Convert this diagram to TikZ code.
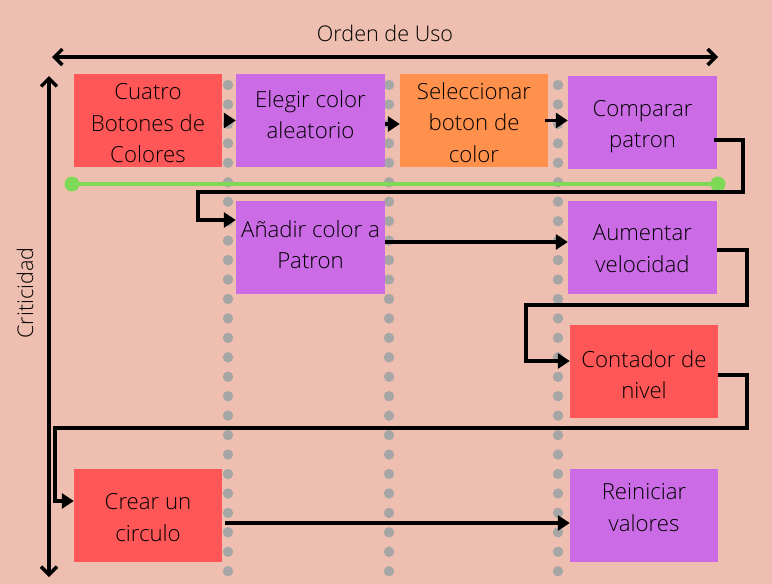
\documentclass[tikz,border=0pt]{standalone}
\usepackage{fontspec}
\setmainfont{Open Sans}[UprightFont = * Light]
\usetikzlibrary{arrows.meta}
\definecolor{paper}{HTML}{EEBFB0}
\definecolor{boxred}{HTML}{FF5757}
\definecolor{boxpurple}{HTML}{CB6CE6}
\definecolor{boxorange}{HTML}{FF914D}
\definecolor{dotgray}{HTML}{A6A6A6}
\definecolor{lime}{HTML}{7ED957}
\tikzset{
  card/.style={minimum width=148pt, minimum height=93pt, inner sep=0pt},
  txt/.style={align=center, inner sep=0pt, font=\fontsize{22.2}{31.5}\selectfont, text=black},
  conn/.style={line width=3.5pt, -{Triangle[length=12pt,width=15pt]}},
  axis/.style={line width=4pt, {Straight Barb[length=8pt,width=16pt,line width=3.5pt]}-{Straight Barb[length=8pt,width=16pt,line width=3.5pt]}},
  lbl/.style={font=\fontsize{21.6}{25}\selectfont, text=black}
}
\begin{document}
\begin{tikzpicture}[x=1pt,y=-1pt]
\fill[paper] (0,0) rectangle (772,584);
\useasboundingbox (0,0) rectangle (772,584);
% dotted guides
\foreach \xx in {228,389,558}{
  \foreach \k in {0,...,25}{
    \fill[dotgray] (\xx,{85+\k*19.45}) circle (5.2);
  }
}
% axes
\coordinate (ax1) at (52,57);
\coordinate (ax2) at (718,57);
\coordinate (ay1) at (49,76);
\coordinate (ay2) at (49,577);
\draw[axis] (ax1) -- (ax2);
\draw[axis] (ay1) -- (ay2);
\node[lbl] (orden) at (385,33) {Orden de Uso};
\node[lbl, rotate=90] (crit) at (25,293) {Criticidad};
% boxes
\node[card, fill=boxred] (c1) at (148,120.5) {};
\node[card, fill=boxpurple, minimum width=149pt] (c2) at (310.5,120.5) {};
\node[card, fill=boxorange] (c3) at (474,120.5) {};
\node[card, fill=boxpurple, minimum width=149pt] (c4) at (642.5,122.5) {};
\node[card, fill=boxpurple, minimum width=149pt] (c5) at (310.5,247.5) {};
\node[card, fill=boxpurple, minimum width=149pt] (c6) at (642.5,247.5) {};
\node[card, fill=boxred] (c7) at (644,371.5) {};
\node[card, fill=boxred] (c8) at (148,515.5) {};
\node[card, fill=boxpurple] (c9) at (644,515.5) {};
% texts
\node[txt] (t1) at ([yshift=-3pt]c1.center) {Cuatro\\Botones de\\Colores};
\node[txt] (t2) at ([yshift=6pt]c2.center) {Elegir color\\aleatorio};
\node[txt] (t3) at ([yshift=-2pt]c3.center) {Seleccionar\\boton de\\color};
\node[txt] (t4) at ([yshift=-4pt]c4.center) {Comparar\\patron};
\node[txt] (t5) at ([yshift=3pt]c5.center) {Añadir color a\\Patron};
\node[txt] (t6) at ([yshift=-1pt]c6.center) {Aumentar\\velocidad};
\node[txt] (t7) at ([yshift=-3pt]c7.center) {Contador de\\nivel};
\node[txt] (t8) at ([yshift=-2pt]c8.center) {Crear un\\circulo};
\node[txt] (t9) at ([yshift=8pt]c9.center) {Reiniciar\\valores};
% green line
\coordinate (g1) at (72,184);
\coordinate (g2) at (718,184);
\draw[lime, line width=3.5pt] (g1) -- (g2);
\fill[lime] (g1) circle (7.5);
\fill[lime] (g2) circle (7.5);
% connectors
\draw[conn] ([xshift=2pt]c1.east) -- (c2.west);
\draw[conn] ([yshift=-3.5pt]c2.east) -- ([yshift=-3.5pt]c3.west);
\draw[conn] ([xshift=-3pt]c3.east) -- (c3.east -| c4.west);
\draw[conn] ([xshift=-3pt,yshift=-17.5pt]c4.east) -- (743,140) -- (743,192) -- (198,192) -- (198,220) -- ([yshift=27.5pt]c5.west);
\draw[conn] ([yshift=5.5pt]c5.east) -- ([yshift=5.5pt]c6.west);
\draw[conn] ([yshift=-2.5pt]c6.east) -- (747,250) -- (747,305) -- (526,305) -- (526,361) -- ([yshift=10.5pt]c7.west);
\draw[conn] ([yshift=-3.5pt]c7.east) -- (747,375) -- (747,428) -- (55,428) -- (55,501) -- ([yshift=14.5pt]c8.west);
\draw[conn] ([xshift=3pt,yshift=-7.5pt]c8.east) -- ([yshift=-7.5pt]c9.west);
\end{tikzpicture}
\end{document}
